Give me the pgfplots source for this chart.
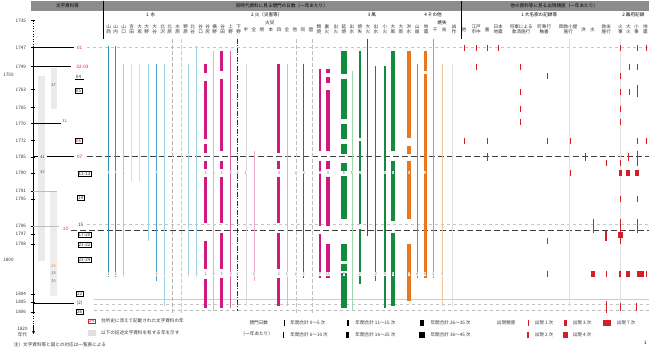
\documentclass[border=0pt]{standalone}
\usepackage{fontspec}
\setmainfont{Noto Sans CJK JP}
\usepackage{pgfplots}
\pgfplotsset{compat=1.18}
\usetikzlibrary{arrows.meta}
\definecolor{tealb}{HTML}{2E8FB8}
\definecolor{lblue}{HTML}{9FD3E6}
\definecolor{mg}{HTML}{D01880}
\definecolor{lpink}{HTML}{F2A8CF}
\definecolor{mpink}{HTML}{DD5FA3}
\definecolor{gr}{HTML}{148A3E}
\definecolor{lgr}{HTML}{9ED6AE}
\definecolor{org}{HTML}{E8771E}
\definecolor{brn}{HTML}{C97A32}
\definecolor{lorg}{HTML}{F2C49A}
\definecolor{rd}{HTML}{D41E2A}
\definecolor{hdr}{HTML}{8C8C8C}
\newcommand{\tx}{\fontsize{4.6}{5}\selectfont}
\newcommand{\sx}{\fontsize{3.8}{4}\selectfont}
\newcommand{\seg}[4]{\addplot[#1] coordinates {(#2,#3) (#2,#4)};}
\newcommand{\rt}[4]{\addplot[rd,line width=#4] coordinates {(#1,#2) (#1,#3)};}
\newcommand{\num}[3]{\node[font=\sx,fill=white,inner sep=0.25pt,text=black!60] at (#1,#2) {#3};}
\newcommand{\cl}[2]{\node[font=\tx,align=center,inner sep=0pt,text=black!80] at (#1,29) {#2};}
\newcommand{\ytk}[1]{\draw[black,line width=0.5pt] (33,#1) -- (37,#1);}
\begin{document}
\begin{tikzpicture}
\begin{axis}[width=650pt,height=351pt,scale only axis,xmin=0,xmax=650,ymin=0,ymax=351,
  y dir=reverse,hide axis,clip=false,
  every axis plot/.append style={forget plot,no markers}]
% ---------- header ----------
\fill[hdr] (33,0) rectangle (650,10);
\draw[black,line width=0.6pt] (105,0) -- (105,38);
\draw[black,line width=0.6pt] (462,0) -- (462,38);
\node[font=\tx] at (69,5) {文字資料等};
\node[font=\tx] at (283,5) {同時代資料に見る閉門の日数（一年あたり）};
\node[font=\tx] at (555,5) {他の資料等に見る出現頻度（一年あたり）};
\node[font=\tx] at (152,14) {1\ \ 水};
\node[font=\tx] at (268,14) {2\ 火（災害等）};
\node[font=\tx] at (373,14) {3\ 風};
\node[font=\tx] at (434,14) {4\ その他};
\node[font=\tx] at (540,14) {1\ 大名家の記録等};
\node[font=\tx] at (634,14) {2\ 幕府記録};
\node[font=\tx] at (271,22) {火災};
\node[font=\tx] at (443,22) {焼失};
\cl{110}{山\\西}\cl{117}{山\\内}\cl{125}{山\\口}\cl{133}{吉\\田}\cl{141}{大\\坂}
\cl{148}{大\\野}\cl{156}{大\\谷}\cl{164}{北\\沢}\cl{171}{北\\原}\cl{179}{水\\原}
\cl{187}{野\\原}\cl{194}{北\\谷}\cl{202}{谷\\口}\cl{209}{谷\\尻}\cl{216}{横\\野}
\cl{224}{谷\\田}\cl{232}{上\\野}\cl{240}{下\\野}
\cl{247}{半}\cl{255}{全}\cl{263}{焼}\cl{272}{本}\cl{280}{四}\cl{288}{全}\cl{296}{他}
\cl{304}{同}\cl{312}{盟}\cl{320}{類\\焼}\cl{328}{裏\\火}\cl{337}{出\\火}\cl{345}{延\\焼}
\cl{353}{出\\水}\cl{361}{焼\\失}\cl{369}{大\\火}\cl{377}{出\\水}\cl{386}{小\\火}
\cl{394}{大\\風}\cl{402}{大\\雨}\cl{410}{洪\\水}\cl{418}{山\\崩}\cl{427}{地\\震}
\cl{436}{干}\cl{445}{虫}\cl{455}{凶\\作}
\cl{465}{他}\cl{477}{江戸\\市中}\cl{488}{書}\cl{499}{日本\\地震}\cl{522}{将軍による\\救済施行}
\cl{545}{町奉行\\触書}\cl{569}{御救小屋\\施行}\cl{584}{洪}\cl{593}{水}\cl{607}{救米\\施行}
\cl{621}{火\\事}\cl{629}{大\\火}\cl{637}{小\\事}\cl{646}{地\\震}
% ---------- year axis ----------
\draw[black,line width=0.6pt,dotted] (35,20) -- (35,45);
\draw[black,line width=0.7pt] (35,45) -- (35,312);
\draw[black,line width=0.6pt,dotted] (35,312) -- (35,324);
\draw[black,line width=0.6pt,-{Stealth[length=3pt,width=3pt]}] (35,324) -- (35,333);
\ytk{20}\ytk{47}\ytk{66}\ytk{89}\ytk{107}\ytk{123}\ytk{140}\ytk{156}\ytk{172}
\ytk{190}\ytk{198}\ytk{225}\ytk{233}\ytk{243}\ytk{293}\ytk{301}\ytk{311}
\node[font=\tx,anchor=east,text=black!80] at (31,20) {1735};
\node[font=\tx,anchor=east,text=black!80] at (31,47) {1747};
\node[font=\tx,anchor=east,text=black!80] at (31,66) {1749};
\node[font=\tx,anchor=east,text=black!80] at (31,89) {1763};
\node[font=\tx,anchor=east,text=black!80] at (31,107) {1765};
\node[font=\tx,anchor=east,text=black!80] at (31,123) {1770};
\node[font=\tx,anchor=east,text=black!80] at (31,140) {1772};
\node[font=\tx,anchor=east,text=black!80] at (31,156) {1785};
\node[font=\tx,anchor=east,text=black!80] at (31,172) {1790};
\node[font=\tx,anchor=east,text=black!80] at (31,190) {1791};
\node[font=\tx,anchor=east,text=black!80] at (31,198) {1795};
\node[font=\tx,anchor=east,text=black!80] at (31,225) {1796};
\node[font=\tx,anchor=east,text=black!80] at (31,233) {1797};
\node[font=\tx,anchor=east,text=black!80] at (31,243) {1798};
\node[font=\tx,anchor=east,text=black!80] at (31,293) {1804};
\node[font=\tx,anchor=east,text=black!80] at (31,301) {1805};
\node[font=\tx,anchor=east,text=black!80] at (31,311) {1806};
\node[font=\tx,text=black!80] at (10,74) {1750};
\node[font=\tx,text=black!80] at (10,259) {1800};
\node[font=\tx,align=center,text=black!80] at (24,331) {1820\\年代};
% ---------- gray shaded spans ----------
\seg{gray!16,line width=6pt}{43}{75}{260}
\seg{gray!16,line width=6pt}{55}{67}{108}
\seg{gray!14,line width=7pt}{55}{190}{295}
% ---------- horizontal reference lines ----------
\draw[black,line width=0.6pt] (35,47) -- (75,47);
\draw[gray!45,line width=0.4pt,dashed] (88,47) -- (650,47);
\draw[black,line width=0.6pt] (35,66) -- (72,66);
\draw[black,line width=0.6pt] (35,123) -- (62,123);
\draw[black,line width=0.6pt] (35,156) -- (40,156);
\draw[black,line width=0.6pt] (48,156) -- (75,156);
\draw[black!75,line width=0.6pt,dash pattern=on 6pt off 3pt] (88,156) -- (650,156);
\draw[gray!50,line width=0.5pt] (35,190) -- (58,190);
\draw[gray!50,line width=0.5pt] (35,225) -- (60,225);
\draw[gray!45,line width=0.4pt,dashed] (88,223) -- (650,223);
\draw[black!75,line width=0.6pt,dash pattern=on 6pt off 3pt] (72,229) -- (650,229);
\draw[black,line width=0.6pt] (35,302) -- (75,302);
\draw[gray!40,line width=0.4pt] (95,298) -- (650,298);
\draw[gray!45,line width=0.4pt,dashed] (95,303) -- (650,303);
\draw[gray!55,line width=0.4pt,dashed] (95,309) -- (650,309);
% ---------- left annotations ----------
\node[font=\tx,text=rd] at (81,47) {01};
\node[font=\tx,text=rd] at (84,66) {02-03};
\node[font=\tx,text=black!80] at (80,76) {04};
\draw[black,line width=0.4pt] (76,79) -- (85,79);
\node[font=\tx,draw=black,line width=0.4pt,inner sep=0.6pt,text=black!80] at (80,90) {05};
\node[font=\sx,text=black!70] at (55,84) {27};
\node[font=\sx,text=black!70] at (66,120) {32};
\node[font=\tx,draw=black,line width=0.4pt,inner sep=0.6pt,text=rd] at (80,140) {06};
\node[font=\sx,text=black!80] at (44,156) {41};
\node[font=\tx,text=rd] at (81,156) {07};
\node[font=\sx,text=black!70] at (44,171) {43};
\node[font=\tx,draw=black,line width=0.4pt,inner sep=0.6pt,text=black!80] at (86,173) {11-13};
\node[font=\tx,draw=black,line width=0.4pt,inner sep=0.6pt,text=black!80] at (82,197) {14};
\node[font=\tx,text=black!80] at (82,224) {15};
\node[font=\tx,text=rd] at (67,228) {10};
\node[font=\tx,draw=black,line width=0.4pt,inner sep=0.6pt,text=black!80] at (86,234) {17-20};
\node[font=\tx,draw=black,line width=0.4pt,inner sep=0.6pt,text=black!80] at (86,244) {21-22};
\node[font=\tx,draw=black,line width=0.4pt,inner sep=0.6pt,text=black!80] at (86,259) {23-24};
\node[font=\sx,text=org] at (55,265) {25};
\node[font=\sx,text=black!60] at (55,272) {28};
\node[font=\sx,text=black!60] at (55,280) {30};
\node[font=\tx,draw=black,line width=0.4pt,inner sep=0.6pt,text=black!80] at (81,293) {22};
\node[font=\tx,text=black!80] at (81,302) {(2)};
\node[font=\tx,draw=black,line width=0.4pt,inner sep=0.6pt,text=black!80] at (81,311) {26};
% ---------- water (blue) ----------
\seg{tealb,line width=1.1pt}{110}{45}{276}
\seg{tealb,line width=1.1pt}{117}{45}{276}
\seg{lblue,line width=0.6pt}{125}{63}{276}
\seg{lblue!60,line width=0.4pt}{133}{63}{180}
\seg{lblue!60,line width=0.4pt}{141}{63}{180}
\seg{lblue,line width=0.5pt}{150}{63}{240}
\seg{tealb!85,line width=0.9pt}{158}{63}{280}
\seg{lblue,line width=0.8pt}{166}{63}{305}
\seg{gray!60,line width=0.5pt,dash pattern=on 4pt off 2pt}{174}{38}{312}
\seg{gray!40,line width=0.4pt,dash pattern=on 4pt off 2pt}{182}{38}{312}
\seg{lblue,line width=0.6pt}{190}{63}{276}
\seg{lblue,line width=0.8pt}{198}{45}{276}
% ---------- fire (magenta) ----------
\seg{mg,line width=3pt}{207}{63}{72}
\seg{mg,line width=3pt}{207}{80}{138}
\seg{mg,line width=3pt}{207}{143}{152}
\seg{mg,line width=3pt}{207}{160}{168}
\seg{mg,line width=3pt}{207}{176}{222}
\seg{mg,line width=3pt}{207}{240}{268}
\seg{mg,line width=3pt}{207}{278}{307}
\seg{lpink,line width=0.8pt}{215}{50}{310}
\seg{mg,line width=3pt}{223}{50}{70}
\seg{mg,line width=3pt}{223}{78}{150}
\seg{mg,line width=3pt}{223}{160}{168}
\seg{mg,line width=3pt}{223}{176}{222}
\seg{mg,line width=3pt}{223}{232}{268}
\seg{mg,line width=3pt}{223}{277}{307}
\seg{mpink,line width=1pt}{232}{50}{307}
\seg{black!80,line width=0.6pt,dash pattern=on 5pt off 1.5pt on 1pt off 1.5pt}{239}{38}{310}
\seg{gray!30,line width=0.4pt}{247}{63}{305}
\seg{lpink,line width=0.5pt}{255}{150}{280}
\seg{mg,line width=3pt}{280}{63}{152}
\seg{mg,line width=3pt}{280}{160}{168}
\seg{mg,line width=3pt}{280}{176}{222}
\seg{mg,line width=3pt}{280}{232}{268}
\seg{mg,line width=3pt}{280}{277}{305}
\seg{lpink,line width=0.6pt}{288}{63}{305}
\seg{gray!50,line width=0.4pt,dash pattern=on 4pt off 2pt}{297}{38}{312}
\seg{mg,line width=1pt}{305}{63}{277}
\seg{gray!50,line width=0.4pt,dash pattern=on 4pt off 2pt}{313}{38}{312}
\seg{mg,line width=2pt}{321}{68}{150}
\seg{mg,line width=2pt}{321}{160}{225}
\seg{mg,line width=2pt}{321}{233}{277}
\seg{mg,line width=4pt}{329}{68}{72}
\seg{mg,line width=4pt}{329}{76}{82}
\seg{mg,line width=4pt}{329}{89}{150}
\seg{mg,line width=4pt}{329}{160}{168}
\seg{mg,line width=4pt}{329}{176}{225}
\seg{mg,line width=4pt}{329}{243}{277}
% ---------- wind (green) ----------
\seg{gr,line width=6pt}{345}{50}{73}
\seg{gr,line width=6pt}{345}{78}{118}
\seg{gr,line width=6pt}{345}{123}{138}
\seg{gr,line width=6pt}{345}{143}{153}
\seg{gr,line width=6pt}{345}{162}{170}
\seg{gr,line width=6pt}{345}{175}{218}
\seg{gr,line width=6pt}{345}{243}{260}
\seg{gr,line width=6pt}{345}{263}{270}
\seg{gr,line width=6pt}{345}{272}{307}
\seg{lgr,line width=0.8pt}{353}{70}{310}
\seg{gr,line width=2.5pt}{361}{50}{137}
\seg{gr,line width=2.5pt}{361}{140}{223}
\seg{gr,line width=2.5pt}{361}{228}{283}
\seg{gr!80!black,line width=1pt}{369}{38}{235}
\seg{gr,line width=1pt}{377}{65}{280}
\seg{gr,line width=2pt}{386}{65}{307}
\seg{gr,line width=4pt}{394}{50}{150}
\seg{gr,line width=4pt}{394}{160}{220}
\seg{gr,line width=4pt}{394}{232}{305}
% ---------- other (orange) ----------
\seg{org,line width=4pt}{410}{50}{137}
\seg{org,line width=4pt}{410}{145}{153}
\seg{org,line width=4pt}{410}{160}{218}
\seg{org,line width=4pt}{410}{243}{300}
\seg{brn,line width=1pt}{418}{63}{277}
\seg{org,line width=3pt}{426}{50}{70}
\seg{org,line width=3pt}{426}{73}{277}
\seg{brn!80,line width=1pt}{434}{38}{277}
\seg{lorg,line width=0.6pt}{443}{63}{305}
\seg{gray!25,line width=0.4pt}{453}{63}{305}
\seg{gray!25,line width=0.4pt}{570}{38}{305}
\seg{gray!25,line width=0.4pt}{621}{38}{305}
% ---------- numbers on bars ----------
\num{110}{172}{1}\num{117}{172}{2}\num{125}{172}{1}\num{158}{172}{2}\num{207}{172}{3}
\num{215}{172}{4}\num{223}{172}{3}\num{232}{172}{3}\num{239}{172}{2}\num{247}{172}{1}
\num{280}{172}{4}\num{297}{172}{2}\num{305}{172}{2}\num{321}{172}{3}\num{329}{172}{3}
\num{345}{172}{5}\num{353}{172}{5}\num{361}{172}{2}\num{386}{172}{5}\num{394}{172}{5}
\num{410}{172}{5}\num{426}{172}{2}
\num{110}{273}{1}\num{117}{273}{3}\num{125}{273}{1}\num{158}{273}{2}\num{166}{273}{1}
\num{190}{273}{1}\num{198}{273}{2}\num{207}{273}{2}\num{215}{273}{4}\num{223}{273}{5}
\num{232}{273}{3}\num{239}{273}{2}\num{255}{273}{2}\num{280}{273}{2}\num{288}{273}{1}
\num{297}{273}{2}\num{305}{273}{1}\num{321}{273}{7}\num{329}{273}{11}\num{345}{273}{8}
\num{361}{273}{2}\num{377}{273}{2}\num{386}{273}{3}\num{394}{273}{5}\num{410}{273}{7}
\num{418}{273}{4}\num{426}{273}{6}\num{434}{273}{1}\num{443}{273}{3}
% ---------- red marks ----------
\rt{465}{44}{50}{1.2pt}\rt{477}{44}{50}{1.2pt}\rt{488}{44}{50}{1.2pt}\rt{499}{44}{50}{1.2pt}
\rt{621}{44}{50}{1.2pt}\rt{638}{44}{50}{1.2pt}\rt{647}{44}{50}{1.2pt}
\rt{477}{63}{69}{1.2pt}\rt{521}{63}{69}{1.2pt}\rt{630}{63}{69}{1.2pt}\rt{638}{63}{69}{1.2pt}
\rt{548}{72}{78}{1.2pt}\rt{621}{72}{78}{1.2pt}
\rt{521}{88}{94}{1.2pt}\rt{621}{88}{94}{1.2pt}\rt{630}{88}{94}{1.2pt}\rt{638}{84}{96}{1.4pt}
\rt{521}{105}{111}{1.2pt}\rt{621}{105}{111}{1.2pt}
\rt{521}{118}{124}{1.2pt}\rt{621}{118}{124}{1.2pt}
\rt{465}{137}{143}{1.2pt}\rt{488}{137}{143}{1.2pt}\rt{548}{137}{143}{1.2pt}
\rt{571}{137}{143}{1.2pt}\rt{638}{137}{143}{1.2pt}\rt{647}{137}{143}{1.2pt}
\rt{488}{152}{160}{1.2pt}\rt{586}{152}{160}{1.2pt}\rt{629}{152}{160}{1.2pt}\rt{638}{150}{165}{1.4pt}
\rt{607}{159}{165}{1.2pt}\rt{621}{159}{165}{1.2pt}
\rt{571}{169}{175}{1.2pt}\rt{621}{169}{175}{3pt}\rt{629}{169}{175}{4pt}\rt{638}{169}{175}{4pt}
\rt{621}{195}{201}{1.2pt}\rt{638}{195}{201}{1.2pt}
\rt{594}{218}{232}{1.4pt}\rt{621}{218}{232}{1.4pt}\rt{638}{218}{232}{1.4pt}
\rt{607}{230}{240}{2pt}\rt{621}{231}{237}{5pt}
\rt{548}{237}{243}{1.2pt}\rt{621}{237}{243}{1.2pt}
\rt{548}{270}{276}{1.2pt}\rt{594}{270}{276}{4pt}\rt{607}{270}{276}{1.2pt}\rt{621}{270}{276}{2pt}
\rt{629}{270}{276}{4pt}\rt{641}{270}{276}{7pt}\rt{647}{270}{276}{1.2pt}
\rt{607}{300}{312}{1.2pt}\rt{621}{302}{310}{1.2pt}\rt{637}{302}{310}{1.2pt}
% ---------- legends ----------
\node[font=\tx,draw=rd,line width=0.4pt,inner sep=0.6pt,text=rd] at (93,320) {24};
\node[font=\tx,anchor=west,text=black!80] at (99,320) {台所史に添えて記載された文字資料の年};
\fill[gray!25] (89,329) rectangle (97,335);
\node[font=\tx,anchor=west,text=black!80] at (99,332) {以下の記述文字資料を有する年を示す};
\node[font=\tx,anchor=west,text=black!80] at (12,344) {注）文字資料等と図との対応は一覧表による};
\node[font=\tx,text=black!80] at (260,322) {閉門日数};
\node[font=\tx,text=black!80] at (258,333) {（一年あたり）};
\draw[black,line width=0.4pt] (285,319) -- (285,325);
\node[font=\tx,anchor=west,text=black!80] at (288,322) {年間合計 0〜5 次};
\draw[black,line width=0.8pt] (285,331) -- (285,337);
\node[font=\tx,anchor=west,text=black!80] at (288,334) {年間合計 6〜10 次};
\draw[black,line width=2pt] (349,319) -- (349,325);
\node[font=\tx,anchor=west,text=black!80] at (353,322) {年間合計 11〜15 次};
\draw[black,line width=3pt] (349,331) -- (349,337);
\node[font=\tx,anchor=west,text=black!80] at (353,334) {年間合計 16〜25 次};
\draw[black,line width=4.5pt] (423,319) -- (423,325);
\node[font=\tx,anchor=west,text=black!80] at (428,322) {年間合計 26〜35 次};
\draw[black,line width=6pt] (423,331) -- (423,337);
\node[font=\tx,anchor=west,text=black!80] at (428,334) {年間合計 36〜45 次};
\node[font=\tx,text=black!80] at (507,322) {出現頻度};
\draw[rd,line width=1.2pt] (529,319) -- (529,325);
\node[font=\tx,anchor=west,text=black!80] at (532,322) {出現 1 次};
\draw[rd,line width=1.6pt] (529,331) -- (529,337);
\node[font=\tx,anchor=west,text=black!80] at (532,334) {出現 2 次};
\draw[rd,line width=3pt] (566,319) -- (566,325);
\node[font=\tx,anchor=west,text=black!80] at (570,322) {出現 3 次};
\draw[rd,line width=5pt] (566,331) -- (566,337);
\node[font=\tx,anchor=west,text=black!80] at (570,334) {出現 4 次};
\draw[rd,line width=8pt] (608,319) -- (608,325);
\node[font=\tx,anchor=west,text=black!80] at (614,322) {出現 7 次};
\node[font=\tx,text=black] at (646,342) {1};
\end{axis}
\end{tikzpicture}
\end{document}
